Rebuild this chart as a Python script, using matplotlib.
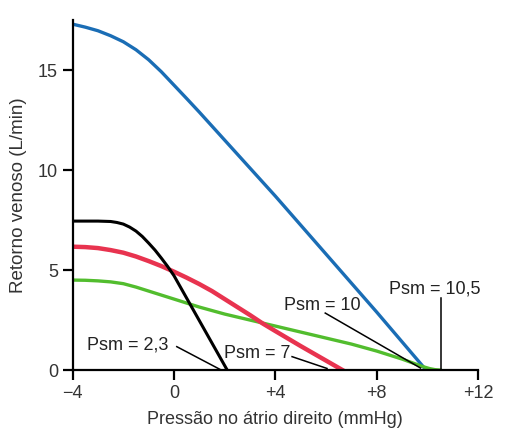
import matplotlib
matplotlib.use("Agg")
import matplotlib.pyplot as plt

plt.rcParams['font.family'] = ['Liberation Sans', 'DejaVu Sans']

# Data
blue_x = [-4, -3.5, -3, -2.5, -2, -1.5, -1, -0.5, 0, 0.5, 1, 2, 3, 4, 6, 8, 9.95]
blue_y = [17.3, 17.15, 16.97, 16.72, 16.42, 16.02, 15.52, 14.92, 14.25, 13.58, 12.9, 11.5, 10.1, 8.7, 5.8, 2.9, 0]

black_x = [-4, -3, -2.5, -2.25, -2, -1.75, -1.5, -1.25, -1, -0.75, -0.5, -0.25, 0, 2.1]
black_y = [7.45, 7.45, 7.43, 7.38, 7.3, 7.15, 6.95, 6.68, 6.35, 6.0, 5.6, 5.18, 4.72, 0]

red_x = [-4, -3.5, -3, -2.5, -2, -1.5, -1, -0.5, 0, 0.5, 1, 1.5, 2, 2.5, 3, 3.5, 4, 5, 6.65]
red_y = [6.17, 6.15, 6.1, 6.0, 5.87, 5.68, 5.45, 5.2, 4.92, 4.62, 4.3, 3.95, 3.55, 3.15, 2.75, 2.33, 1.95, 1.2, 0]

green_x = [-4, -3.5, -3, -2.5, -2, -1.5, -1, -0.5, 0, 1, 2, 3, 4, 5, 6, 7, 8, 9, 9.5, 9.8, 10.1, 10.3, 10.5]
green_y = [4.5, 4.49, 4.46, 4.41, 4.32, 4.15, 3.95, 3.75, 3.55, 3.15, 2.8, 2.5, 2.2, 1.9, 1.6, 1.3, 0.95, 0.55, 0.32, 0.18, 0.07, 0.02, 0]

x_ticks = [-4, 0, 4, 8, 12]
x_tick_labels = ['\u22124', '0', '+4', '+8', '+12']
y_ticks = [0, 5, 10, 15]

labels = ['Psm = 2,3', 'Psm = 7', 'Psm = 10', 'Psm = 10,5']
label_pos = [(-1.81, 1.25), (3.27, 0.85), (5.84, 3.25), (10.28, 4.03)]
pointer_start = [(0.11, 1.17), (4.66, 0.67), (5.97, 2.85), (10.52, 3.6)]
pointer_end = [(1.82, 0.03), (6.04, 0.08), (9.73, 0.1), (10.52, 0.0)]

fig = plt.figure(figsize=(5.08, 4.48), dpi=100)
ax = fig.add_axes([0.143, 0.174, 0.798, 0.781])

ax.plot(blue_x, blue_y, color='#1a6db5', lw=2.4, solid_joinstyle='round')
ax.plot(green_x, green_y, color='#52bd2e', lw=2.4, solid_joinstyle='round')
ax.plot(red_x, red_y, color='#e8334f', lw=3.2, solid_joinstyle='round')
ax.plot(black_x, black_y, color='black', lw=2.2, solid_joinstyle='round')

for lab, (tx, ty), (sx, sy), (ex, ey) in zip(labels, label_pos, pointer_start, pointer_end):
    ax.text(tx, ty, lab, ha='center', va='center', fontsize=13, color='#222222')
    ax.plot([sx, ex], [sy, ey], color='black', lw=1.1)

ax.set_xlim(-4, 12)
ax.set_ylim(0, 17.5)
ax.set_xticks(x_ticks)
ax.set_xticklabels(x_tick_labels)
ax.set_yticks(y_ticks)
for s in ['top', 'right']:
    ax.spines[s].set_visible(False)
for s in ['left', 'bottom']:
    ax.spines[s].set_linewidth(1.6)
ax.tick_params(direction='out', length=7, width=1.6, labelsize=13, colors='black', labelcolor='#333333')
ax.set_xlabel('Pressão no átrio direito (mmHg)', fontsize=13, color='#333333', labelpad=7)
ax.set_ylabel('Retorno venoso (L/min)', fontsize=13.5, color='#333333', labelpad=8)

fig.savefig('out.png', dpi=100)
